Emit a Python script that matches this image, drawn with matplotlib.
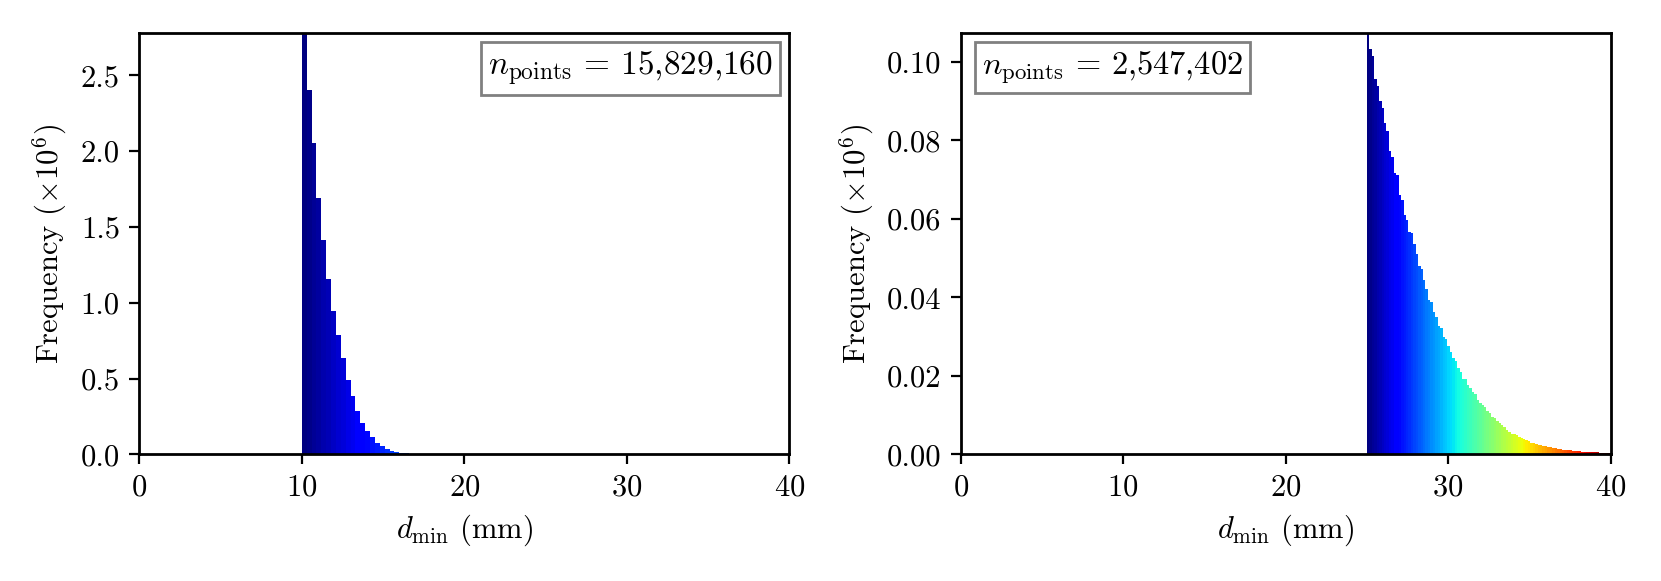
import matplotlib
matplotlib.use("Agg")
import matplotlib.pyplot as plt
import matplotlib.ticker as mticker
import numpy as np
from matplotlib.offsetbox import AnchoredText

plt.rcParams.update({
    "font.family": "serif",
    "font.serif": ["cmr10"],
    "mathtext.fontset": "cm",
    "axes.formatter.use_mathtext": True,
    "font.size": 11,
    "axes.linewidth": 1.0,
})

# Left histogram: 100 bins spanning 10-40 mm (bin width 0.3 mm); visible non-zero bins
left_start, left_stop, left_nbins = 10.0, 40.0, 100
left_counts = [2.778, 2.401, 2.051, 1.692, 1.412, 1.160, 0.947, 0.790, 0.634, 0.491,
               0.385, 0.286, 0.209, 0.156, 0.116, 0.077, 0.055, 0.033, 0.021, 0.014,
               0.010, 0.007, 0.004]
left_label = r"$n_{\mathrm{points}}$ = 15,829,160"

# Right histogram: 100 bins spanning 25-40 mm (bin width 0.15 mm)
right_start, right_stop, right_nbins = 25.0, 40.0, 100
right_counts = [0.1073, 0.1034, 0.1015, 0.0956, 0.0939, 0.0900, 0.0883, 0.0844, 0.0825, 0.0772,
                0.0759, 0.0717, 0.0712, 0.0660, 0.0648, 0.0610, 0.0596, 0.0567, 0.0565, 0.0535,
                0.0511, 0.0479, 0.0471, 0.0444, 0.0422, 0.0394, 0.0388, 0.0363, 0.0351, 0.0326,
                0.0322, 0.0300, 0.0294, 0.0275, 0.0262, 0.0245, 0.0237, 0.0220, 0.0211, 0.0192,
                0.0191, 0.0177, 0.0170, 0.0158, 0.0154, 0.0139, 0.0132, 0.0126, 0.0120, 0.0111,
                0.0106, 0.0096, 0.0092, 0.0085, 0.0079, 0.0075, 0.0069, 0.0062, 0.0057, 0.0053,
                0.0051, 0.0048, 0.0045, 0.0042, 0.0038, 0.0036, 0.0033, 0.0030, 0.0028, 0.0026,
                0.0024, 0.0023, 0.0021, 0.0020, 0.0019, 0.0018, 0.0016, 0.0015, 0.0014, 0.0013,
                0.0012, 0.0011, 0.0010, 0.0010, 0.0009, 0.0009, 0.0008, 0.0008, 0.0007, 0.0007,
                0.0006, 0.0006, 0.0005, 0.0005, 0.0005, 0.0004, 0.0004, 0.0004, 0.0004, 0.0003]
right_label = r"$n_{\mathrm{points}}$ = 2,547,402"

xticks = [0, 10, 20, 30, 40]

fig = plt.figure(figsize=(1661 / 200, 581 / 200), dpi=200)
axL = fig.add_axes([139.3 / 1661, 1 - 454.3 / 581, 650 / 1661, 421 / 581])
axR = fig.add_axes([960.7 / 1661, 1 - 454.3 / 581, 650 / 1661, 421 / 581])

cmap = plt.get_cmap("jet")


def draw(ax, start, stop, nbins, counts, label, loc, anchor, yticks, fmt, boxsize):
    width = (stop - start) / nbins
    edges = start + width * np.arange(len(counts))
    colors = [cmap(i / (nbins - 1)) for i in range(len(counts))]
    ax.bar(edges, counts, width=width, align="edge", color=colors, linewidth=0)
    ax.set_xlim(0, 40)
    ax.set_ylim(0, max(counts))
    ax.set_xticks(xticks)
    ax.set_yticks(yticks)
    ax.yaxis.set_major_formatter(mticker.FormatStrFormatter(fmt))
    ax.set_xlabel(r"$d_{\min}$ (mm)")
    ax.set_ylabel(r"Frequency ($\times 10^6$)")
    at = AnchoredText(label, loc=loc, bbox_to_anchor=anchor, bbox_transform=ax.transAxes,
                      borderpad=0, pad=0.22, prop=dict(size=boxsize), frameon=True)
    at.patch.set_boxstyle("square,pad=0")
    at.patch.set_edgecolor("#808080")
    at.patch.set_linewidth(1.0)
    ax.add_artist(at)


draw(axL, left_start, left_stop, left_nbins, left_counts, left_label,
     "upper right", (0.986, 0.979), [0.0, 0.5, 1.0, 1.5, 2.0, 2.5], "%.1f", 12)
draw(axR, right_start, right_stop, right_nbins, right_counts, right_label,
     "upper left", (0.022, 0.979), [0.00, 0.02, 0.04, 0.06, 0.08, 0.10], "%.2f", 11.7)

fig.savefig("out.png", dpi=200)
